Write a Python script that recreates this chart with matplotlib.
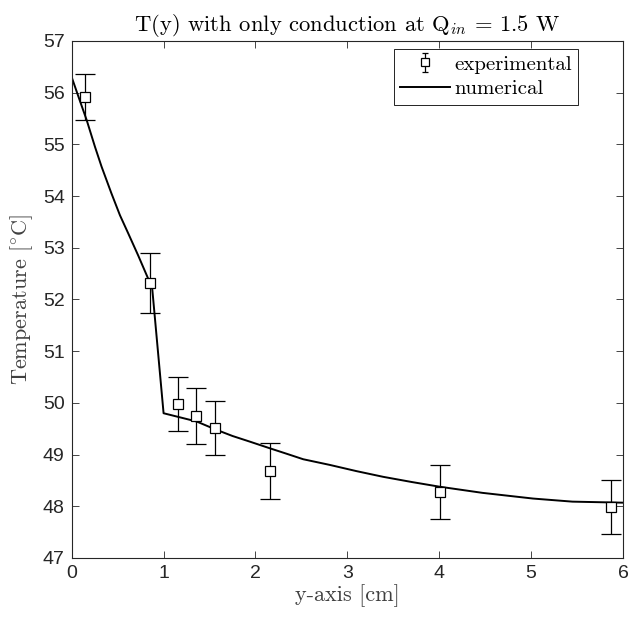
import matplotlib
matplotlib.use("Agg")
import matplotlib.pyplot as plt
from matplotlib.container import ErrorbarContainer
from matplotlib.legend_handler import HandlerErrorbar
from matplotlib.lines import Line2D
import numpy as np

plt.rcParams['mathtext.fontset'] = 'cm'
plt.rcParams['axes.unicode_minus'] = False

# experimental data
exp_y = [0.15, 0.85, 1.155, 1.355, 1.555, 2.155, 4.01, 5.865]
exp_T = [55.92, 52.31, 49.98, 49.75, 49.51, 48.68, 48.27, 47.99]
exp_err = [0.44, 0.58, 0.53, 0.54, 0.52, 0.54, 0.52, 0.52]

# numerical curve
num_y = [0.0, 0.08, 0.163, 0.254, 0.325, 0.433, 0.525, 0.615, 0.724, 0.833, 0.875,
         1.0, 1.18, 1.36, 1.56, 1.75, 1.94, 2.16, 2.35, 2.52, 2.81, 3.1, 3.39, 3.7,
         4.0, 4.47, 5.02, 5.45, 6.0]
num_T = [56.30, 55.89, 55.47, 54.95, 54.57, 54.05, 53.63, 53.28, 52.85, 52.40, 52.24,
         49.8, 49.72, 49.64, 49.49, 49.36, 49.25, 49.12, 49.01, 48.91, 48.80, 48.68, 48.57, 48.47,
         48.38, 48.26, 48.15, 48.09, 48.07]

xticks = [0, 1, 2, 3, 4, 5, 6]
yticks = [47, 48, 49, 50, 51, 52, 53, 54, 55, 56, 57]

gray = '#262626'
labgray = '#404040'

fig = plt.figure(figsize=(6.3, 6.2), dpi=100)
ax = fig.add_axes([0.1138, 0.1, 0.8751, 0.8339])

ax.errorbar(exp_y, exp_T, yerr=exp_err, fmt='s', mfc='white', mec='black', ms=7,
            mew=0.9, ecolor='black', elinewidth=0.9, capsize=7, capthick=0.9,
            label='experimental', zorder=3)
ax.plot(num_y, num_T, color='black', lw=1.4, label='numerical', zorder=2)

ax.set_xlim(0, 6)
ax.set_ylim(47, 57)
ax.set_xticks(xticks)
ax.set_yticks(yticks)
ax.tick_params(direction='in', length=5, width=0.6, top=True, right=True,
               labelsize=14, colors=gray, pad=5)
for lab in ax.get_xticklabels() + ax.get_yticklabels():
    lab.set_family('Liberation Sans')
for s in ax.spines.values():
    s.set_color(gray)
    s.set_linewidth(0.8)

ax.set_title(r'T(y) with only conduction at Q$_{in}$ = 1.5 W', family='cmr10',
             fontsize=16.3, color='black', pad=7)
ax.set_xlabel('y-axis [cm]', family='cmr10', fontsize=16, color=labgray, labelpad=2)
ax.set_ylabel(r'Temperature [$^{\circ}$C]', family='cmr10', fontsize=16, color=labgray, labelpad=6)

h, l = ax.get_legend_handles_labels()
order = [l.index('experimental'), l.index('numerical')]
leg = ax.legend([h[i] for i in order], [l[i] for i in order],
                loc='upper right', bbox_to_anchor=(0.918, 0.985), prop={'family': 'cmr10', 'size': 15},
                fancybox=False, edgecolor='black', framealpha=1, borderpad=0.3,
                handlelength=2.4, handletextpad=0.2, labelspacing=0.3, borderaxespad=0,
                markerscale=0.75,
                handler_map={ErrorbarContainer: HandlerErrorbar(yerr_size=0.45)})
leg.get_frame().set_linewidth(0.6)
for art in leg.findobj(Line2D):
    if art.get_marker() == '_':
        art.set_markersize(4.5)

fig.savefig('out.png', dpi=100)
